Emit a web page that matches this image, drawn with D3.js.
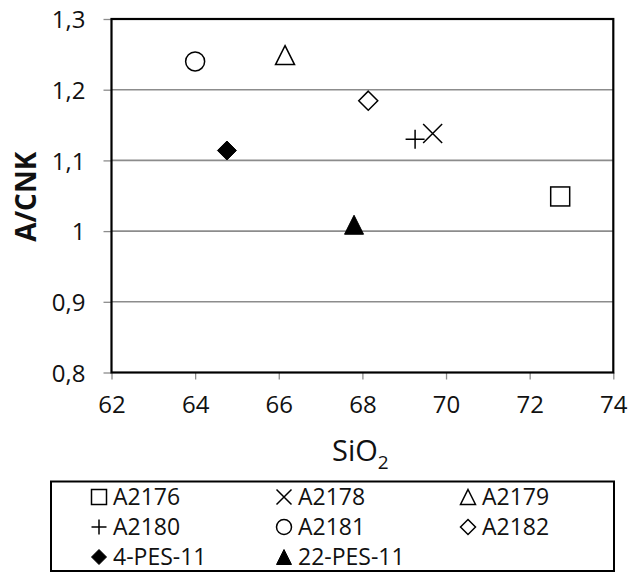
<!DOCTYPE html>
<html><head><meta charset="utf-8">
<script src="https://cdn.jsdelivr.net/npm/d3@7/dist/d3.min.js"></script>
<style>body{margin:0;background:#fff}svg{display:block}text{font-family:"Open Sans",sans-serif}</style>
</head><body><svg id="c" width="639" height="573"></svg>
<script>
const names = ["A2176","A2178","A2179","A2180","A2181","A2182","4-PES-11","22-PES-11"];
const shapes = ["square","x","triangle","plus","circle","diamond","diamondFilled","triangleFilled"];
const sio2 = [72.73, 69.68, 66.15, 69.26, 64.0, 68.14, 64.76, 67.80];
const acnk = [1.049, 1.138, 1.249, 1.130, 1.240, 1.1845, 1.114, 1.009];
const xTicks = [62,64,66,68,70,72,74];
const yTicks = [0.8,0.9,1.0,1.1,1.2,1.3];

const svg = d3.select("#c");
const m = {l:111.5, r:613.3, t:19, b:372.5};
const x = d3.scaleLinear().domain([62,74]).range([m.l,m.r]);
const y = d3.scaleLinear().domain([0.8,1.3]).range([m.b,m.t]);
const fmt = v => d3.format(".1f")(v).replace(".",",").replace(/,0$/,"");

// gridlines
svg.append("g").selectAll("line").data(yTicks.slice(1,-1)).join("line")
  .attr("x1",m.l).attr("x2",m.r).attr("y1",d=>y(d)).attr("y2",d=>y(d))
  .attr("stroke","#8c8c8c").attr("stroke-width",1.6);

// axes
const xa = svg.append("g").attr("transform",`translate(0,${m.b})`)
  .call(d3.axisBottom(x).tickValues(xTicks).tickSize(7).tickPadding(16).tickFormat(d=>d));
const ya = svg.append("g").attr("transform",`translate(${m.l},0)`)
  .call(d3.axisLeft(y).tickValues(yTicks).tickSize(8).tickPadding(18).tickFormat(fmt));
[xa,ya].forEach(a=>{
  a.select(".domain").remove();
  a.selectAll(".tick line").attr("stroke","#8c8c8c").attr("stroke-width",1.3);
  a.selectAll(".tick text").attr("font-size",24).attr("fill","#111");
});
ya.selectAll(".tick text").attr("dy","0.36em");

// border
svg.append("rect").attr("x",m.l).attr("y",m.t).attr("width",m.r-m.l).attr("height",m.b-m.t)
  .attr("fill","none").attr("stroke","#000").attr("stroke-width",2.2);

function marker(g, shape, s){
  const h = s/2;
  const stroke = 1.5;
  switch(shape){
    case "square": g.append("rect").attr("x",-h).attr("y",-h).attr("width",s).attr("height",s).attr("fill","#fff").attr("stroke","#000").attr("stroke-width",stroke); break;
    case "x": g.append("path").attr("d",`M${-h},${-h}L${h},${h}M${-h},${h}L${h},${-h}`).attr("stroke","#000").attr("stroke-width",stroke).attr("fill","none"); break;
    case "plus": g.append("path").attr("d",`M${-h},0L${h},0M0,${-h}L0,${h}`).attr("stroke","#000").attr("stroke-width",stroke).attr("fill","none"); break;
    case "circle": g.append("circle").attr("r",h).attr("fill","#fff").attr("stroke","#000").attr("stroke-width",stroke); break;
    case "triangle": g.append("path").attr("d",`M0,${-h}L${h},${h}L${-h},${h}Z`).attr("fill","#fff").attr("stroke","#000").attr("stroke-width",stroke); break;
    case "triangleFilled": g.append("path").attr("d",`M0,${-h}L${h},${h}L${-h},${h}Z`).attr("fill","#000").attr("stroke","#000").attr("stroke-width",1); break;
    case "diamond": g.append("path").attr("d",`M0,${-h}L${h},0L0,${h}L${-h},0Z`).attr("fill","#fff").attr("stroke","#000").attr("stroke-width",stroke); break;
    case "diamondFilled": g.append("path").attr("d",`M0,${-h}L${h},0L0,${h}L${-h},0Z`).attr("fill","#000").attr("stroke","#000").attr("stroke-width",1); break;
  }
}

// points
names.forEach((n,i)=>{
  const g = svg.append("g").attr("transform",`translate(${x(sio2[i])},${y(acnk[i])})`);
  marker(g, shapes[i], 19);
});

// axis titles
const xt = svg.append("text").attr("x",(m.l+m.r)/2 - 2).attr("y",461).attr("text-anchor","middle")
  .attr("font-size",29).attr("fill","#111");
xt.append("tspan").text("SiO");
xt.append("tspan").text("2").attr("font-size",19).attr("dy",8);
svg.append("text").attr("transform",`translate(36,${(m.t+m.b)/2 + 1}) rotate(-90)`).attr("text-anchor","middle")
  .attr("font-size",28).attr("font-weight","bold").attr("fill","#111").text("A/CNK");

// legend
svg.append("rect").attr("x",51).attr("y",481.5).attr("width",563).attr("height",89.5)
  .attr("fill","#fff").attr("stroke","#000").attr("stroke-width",2);
const colX = [99, 284, 468];
const rowY = [497, 527, 557];
names.forEach((n,i)=>{
  const c = i%3, r = Math.floor(i/3);
  const g = svg.append("g").attr("transform",`translate(${colX[c]},${rowY[r]})`);
  marker(g.append("g"), shapes[i], 15);
  g.append("text").attr("x",14).attr("dy","0.36em").attr("font-size",23).attr("fill","#111").text(n);
});
</script></body></html>
